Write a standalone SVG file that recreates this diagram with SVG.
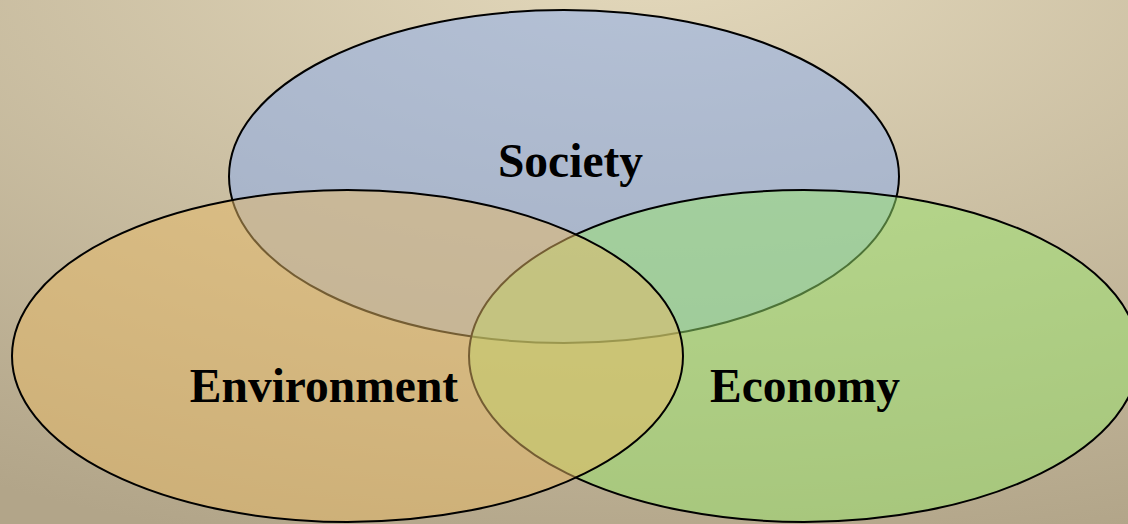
<svg xmlns="http://www.w3.org/2000/svg" width="1128" height="524" viewBox="0 0 1128 524">
<defs>
<radialGradient id="bg" gradientUnits="userSpaceOnUse" cx="650" cy="-50" r="620" gradientTransform="translate(650,-50) scale(2.1,1) translate(-650,50)">
<stop offset="0" stop-color="#e4d9bc"/>
<stop offset="1" stop-color="#b2a589"/>
</radialGradient>
<style>
.c{stroke:#000;stroke-width:2;fill-opacity:0.5}
.t{font-family:"Liberation Serif","Times New Roman",serif;font-weight:bold;font-size:47.5px;fill:#000;text-anchor:middle}
</style>
</defs>
<rect width="1128" height="524" fill="url(#bg)"/>
<g id="society">
<ellipse class="c" cx="564" cy="176.5" rx="335" ry="166.5" fill="#87abf2"/>
</g>
<g id="economy">
<ellipse class="c" cx="804" cy="356" rx="335" ry="166" fill="#99e56d"/>
</g>
<g id="environment">
<ellipse class="c" cx="347.5" cy="356" rx="335.5" ry="166" fill="#e7ba66"/>
</g>
<g id="labels">
<text class="t" x="570.5" y="177">Society</text>
<text class="t" x="324" y="401.5">Environment</text>
<text class="t" x="805" y="401.5">Economy</text>
</g>
<g id="connectors"/>
</svg>
